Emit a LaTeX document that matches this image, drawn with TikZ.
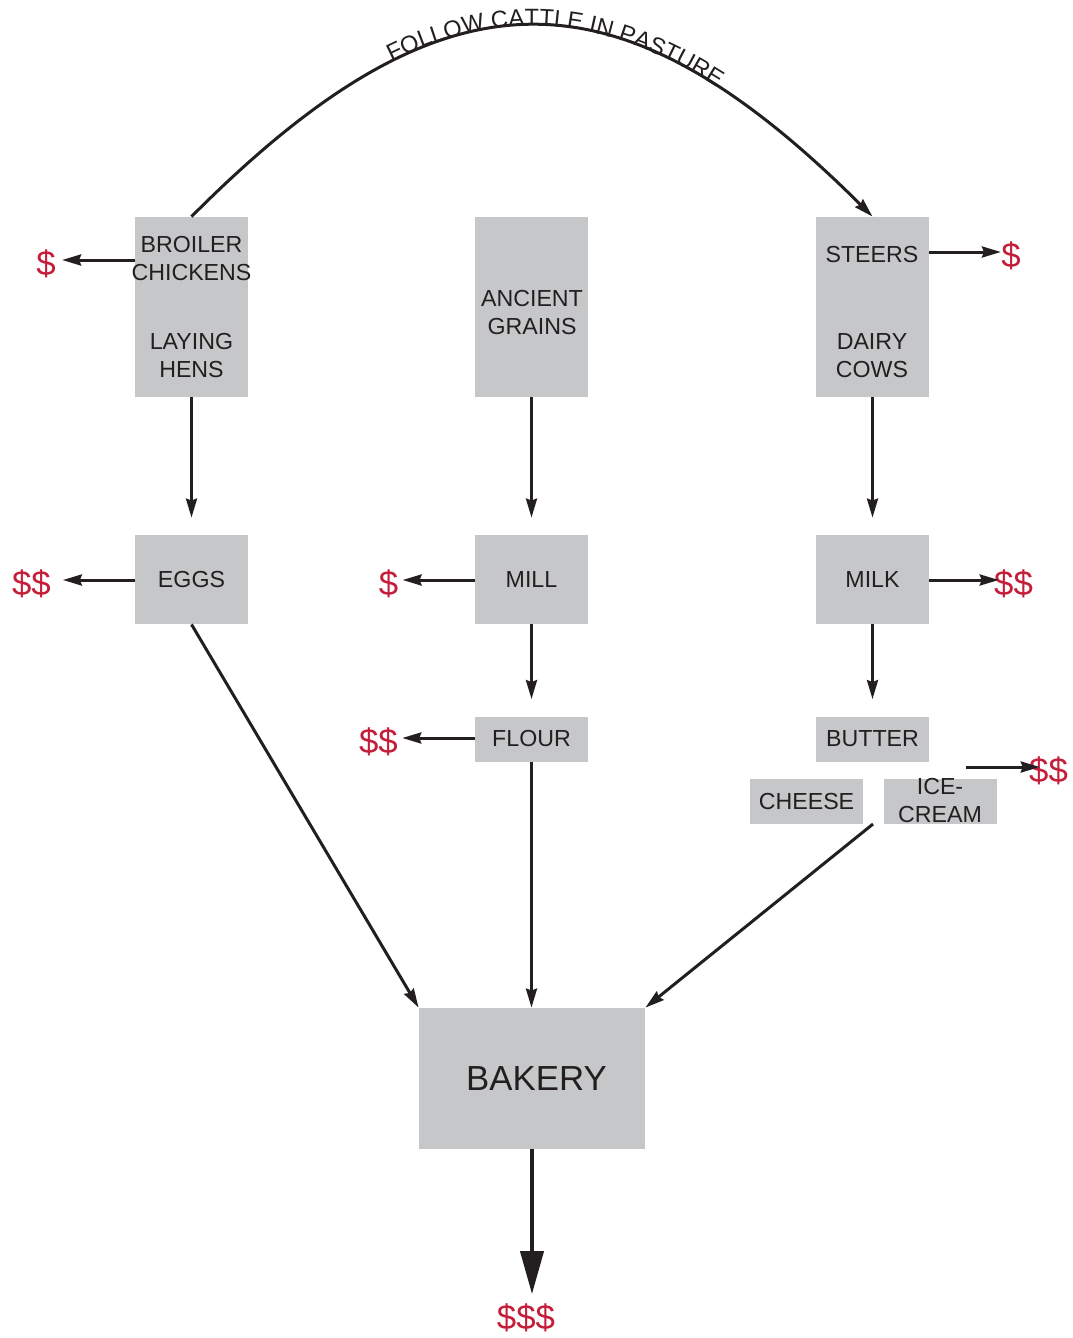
\documentclass[tikz,border=0pt]{standalone}
\usepackage{xcolor}
\usepackage{tikz}
\usepackage{fontspec}
\setmainfont{Liberation Sans}
\usetikzlibrary{arrows.meta,decorations.text}
\definecolor{boxgray}{HTML}{C6C7C9}
\definecolor{ink}{HTML}{231F20}
\definecolor{cashred}{HTML}{C41E3A}

\begin{document}
\begin{tikzpicture}[x=0.5pt,y=-0.5pt,
      cell/.style={fill=boxgray,draw=none,inner sep=0pt,minimum width=56.5pt},
      tallcell/.style={cell,minimum height=90pt},
      midcell/.style={cell,minimum height=44.5pt},
      thincell/.style={cell,minimum height=22.5pt},
      boxtext/.style={text=ink,align=center,inner sep=0pt,font=\fontsize{11.6}{14}\selectfont},
      dollar/.style={text=cashred,inner sep=0pt,text height=17.4pt,text depth=2.1pt,font=\fontsize{17.4}{20}\selectfont},
      flow/.style={draw=ink,line width=1.5pt,-{Stealth[length=9.5pt,width=5.5pt,inset=1pt]}},
      gap/.style={shorten >=8.5pt}]
      \useasboundingbox (0,0) rectangle (1072,1338);

      % top row
      \node[tallcell] (Poultry) at (191.5,307) {};
      \node[tallcell] (Grains) at (531.5,307) {};
      \node[tallcell] (Cattle) at (872.5,307) {};
      \node[boxtext] (Broiler) at (191.5,259) {BROILER\\CHICKENS};
      \node[boxtext] (Hens) at (191.5,355.5) {LAYING\\HENS};
      \node[boxtext] (Ancient) at (532,313) {ANCIENT\\GRAINS};
      \node[boxtext] (Steers) at (872,255) {STEERS};
      \node[boxtext] (Dairy) at (872,355.5) {DAIRY\\COWS};

      % middle rows
      \node[midcell,boxtext] (Eggs) at (191.5,579.5) {EGGS};
      \node[midcell,boxtext] (Mill) at (531.5,579.5) {MILL};
      \node[midcell,boxtext] (Milk) at (872.5,579.5) {MILK};
      \node[thincell,boxtext] (Flour) at (531.5,739) {FLOUR};
      \node[thincell,boxtext] (Butter) at (872.5,739) {BUTTER};
      \node[thincell,boxtext] (Cheese) at (806.5,801.5) {CHEESE};
      \node[thincell] (IceCream) at (940.5,801.5) {};
      \node[boxtext] (IceText) at (940,801) {ICE-\\CREAM};

      \node[cell,minimum width=113pt,minimum height=70.5pt,text=ink,
            font=\fontsize{17.4}{20}\selectfont] (Bakery) at (532,1078.5) {\hspace{4.5pt}BAKERY};

      % money
      \node[dollar] (PayBroiler) at (46,260) {\$};
      \node[dollar] (PayEggs) at (31.5,580) {\$\$};
      \node[dollar] (PayMill) at (388.5,580) {\$};
      \node[dollar] (PayFlour) at (378.5,738) {\$\$};
      \node[dollar] (PaySteers) at (1011,252) {\$};
      \node[dollar] (PayMilk) at (1013.5,580) {\$\$};
      \node[dollar] (PayIce) at (1048.5,767) {\$\$};
      \node[dollar] (PayBakery) at (526,1314) {\$\$\$};

      \coordinate (IceOut) at (966,767);
      \coordinate (Products) at (873,824);

      % arrows
      \draw[flow,postaction={decorate,decoration={text along path,
            text={|\fontsize{11.8}{14}\selectfont\color{ink}|FOLLOW CATTLE IN PASTURE},
            text align={left indent=127pt}}}]
        (Poultry.north) .. controls (445,-38) and (617,-38) .. (Cattle.north);
      \draw[flow,shorten >=3pt] (PayBroiler -| Poultry.west) -- (PayBroiler.east);
      \draw[flow,shorten >=5.8pt] (PayEggs -| Eggs.west) -- (PayEggs.east);
      \draw[flow,shorten >=2pt] (PayMill -| Mill.west) -- (PayMill.east);
      \draw[flow,shorten >=2pt] (PayFlour -| Flour.west) -- (PayFlour.east);
      \draw[flow] (PaySteers -| Cattle.east) -- (PaySteers.west);
      \draw[flow,shorten >=-2.5pt] (PayMilk -| Milk.east) -- (PayMilk.west);
      \draw[flow,shorten >=-5.5pt] (IceOut) -- (PayIce.west);

      \draw[flow,gap] (Poultry) -- (Eggs);
      \draw[flow,gap] (Grains) -- (Mill);
      \draw[flow,gap] (Cattle) -- (Milk);
      \draw[flow,gap] (Mill) -- (Flour);
      \draw[flow,gap] (Milk) -- (Butter);

      \draw[flow] (Eggs.south) -- (Bakery.north west);
      \draw[flow] (Flour.south) -- (Flour.south |- Bakery.north);
      \draw[flow] (Products) -- (Bakery.north east);
      \draw[draw=ink,line width=2pt,-{Triangle[length=21.5pt,width=11.5pt]}]
        (Bakery.south) -- (Bakery.south |- PayBakery.north);
\end{tikzpicture}
\end{document}
